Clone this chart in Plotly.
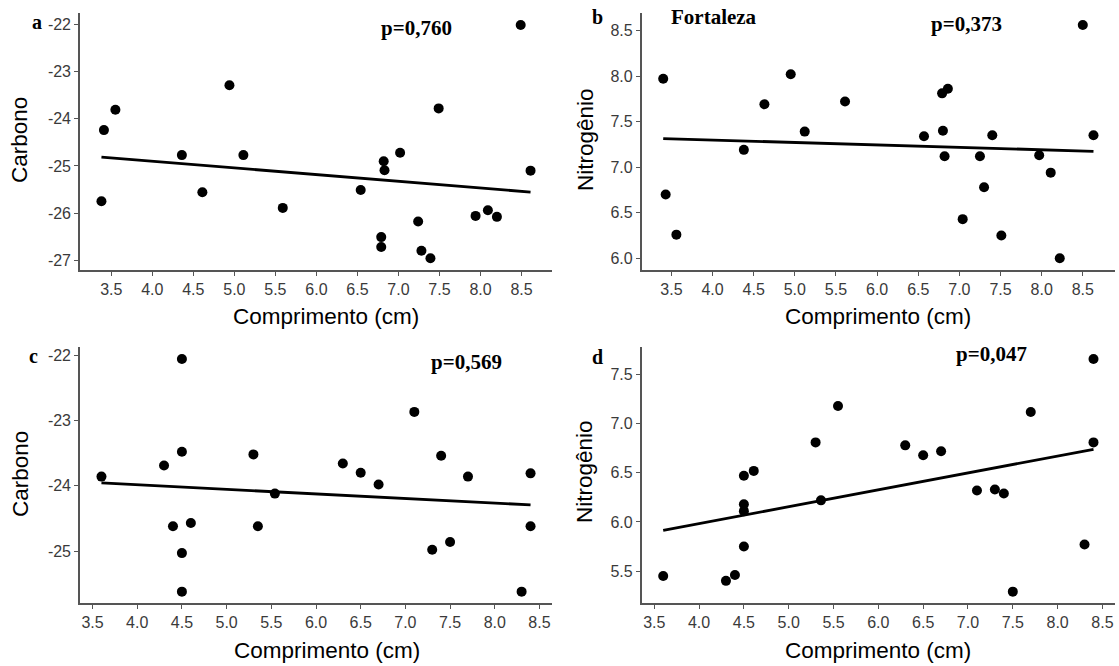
import numpy as np
import plotly.graph_objects as go

# ---------------- data ----------------
a_x = [3.38, 3.41, 3.55, 4.36, 4.61, 4.94, 5.11, 5.59, 6.54, 6.79, 6.79, 6.82,
       6.83, 7.02, 7.24, 7.28, 7.39, 7.49, 7.94, 8.09, 8.20, 8.49, 8.61]
a_y = [-25.75, -24.24, -23.81, -24.77, -25.56, -23.29, -24.77, -25.89, -25.51,
       -26.51, -26.72, -24.90, -25.09, -24.72, -26.18, -26.80, -26.96, -23.78,
       -26.06, -25.94, -26.08, -22.01, -25.10]

b_x = [3.40, 3.43, 3.56, 4.38, 4.63, 4.95, 5.12, 5.61, 6.57, 6.79, 6.86, 6.80,
       6.82, 7.04, 7.25, 7.30, 7.40, 7.51, 7.97, 8.11, 8.22, 8.50, 8.63]
b_y = [7.97, 6.70, 6.26, 7.19, 7.69, 8.02, 7.39, 7.72, 7.34, 7.81, 7.86, 7.40,
       7.12, 6.43, 7.12, 6.78, 7.35, 6.25, 7.13, 6.94, 6.00, 8.56, 7.35]

c_x = [3.60, 4.30, 4.40, 4.50, 4.50, 4.50, 4.50, 4.60, 5.30, 5.35, 5.54, 6.30,
       6.50, 6.70, 7.10, 7.30, 7.40, 7.50, 7.70, 8.30, 8.40, 8.40]
c_y = [-23.86, -23.69, -24.62, -22.06, -23.48, -25.03, -25.62, -24.57, -23.52,
       -24.62, -24.12, -23.66, -23.80, -23.98, -22.87, -24.98, -23.54, -24.86,
       -23.86, -25.62, -23.81, -24.62]

d_x = [3.60, 4.30, 4.40, 4.50, 4.50, 4.50, 4.50, 4.61, 5.30, 5.36, 5.55, 6.30,
       6.50, 6.70, 7.10, 7.30, 7.40, 7.50, 7.70, 8.30, 8.40, 8.40]
d_y = [5.45, 5.40, 5.46, 5.75, 6.11, 6.18, 6.47, 6.52, 6.81, 6.22, 7.18, 6.78,
       6.68, 6.72, 6.32, 6.33, 6.29, 5.29, 7.12, 5.77, 7.66, 6.81]

x_ticks = [3.5, 4.0, 4.5, 5.0, 5.5, 6.0, 6.5, 7.0, 7.5, 8.0, 8.5]
x_tick_labels = ["3.5", "4.0", "4.5", "5.0", "5.5", "6.0", "6.5", "7.0", "7.5", "8.0", "8.5"]
a_y_ticks = [-27, -26, -25, -24, -23, -22]
a_y_labels = ["-27", "-26", "-25", "-24", "-23", "-22"]
b_y_ticks = [6.0, 6.5, 7.0, 7.5, 8.0, 8.5]
b_y_labels = ["6.0", "6.5", "7.0", "7.5", "8.0", "8.5"]
c_y_ticks = [-25, -24, -23, -22]
c_y_labels = ["-25", "-24", "-23", "-22"]
d_y_ticks = [5.5, 6.0, 6.5, 7.0, 7.5]
d_y_labels = ["5.5", "6.0", "6.5", "7.0", "7.5"]

panel_letters = ["a", "b", "c", "d"]
p_values = ["p=0,760", "p=0,373", "p=0,569", "p=0,047"]
x_title = "Comprimento (cm)"
y_titles = ["Carbono", "Nitrogênio", "Carbono", "Nitrogênio"]
site_label = "Fortaleza"

# ---------------- figure ----------------
W, H = 1119, 666
fig = go.Figure()

panels = [
    (a_x, a_y, a_y_ticks, a_y_labels),
    (b_x, b_y, b_y_ticks, b_y_labels),
    (c_x, c_y, c_y_ticks, c_y_labels),
    (d_x, d_y, d_y_ticks, d_y_labels),
]

# pixel boxes of the panels (left, right, top, bottom)
boxes = [(80, 552, 13.3, 270), (641.7, 1115, 13.3, 270),
         (80, 552, 347.3, 603.3), (641.7, 1115, 347.3, 603.3)]

axis_col = "#555555"
tick_font = dict(family="Liberation Sans, Arial", size=16, color="#3a3a3a")

def expand(vals):
    lo, hi = min(vals), max(vals)
    pad = 0.05 * (hi - lo)
    return [lo - pad, hi + pad]

for i, (xs, ys, yt, yl) in enumerate(panels):
    n = "" if i == 0 else str(i + 1)
    xa, ya = "x" + n, "y" + n
    fig.add_trace(go.Scatter(x=xs, y=ys, mode="markers", xaxis=xa, yaxis=ya,
                             marker=dict(color="black", size=10), showlegend=False))
    slope, inter = np.polyfit(xs, ys, 1)
    lx = np.array([min(xs), max(xs)])
    fig.add_trace(go.Scatter(x=lx, y=slope * lx + inter, mode="lines", xaxis=xa, yaxis=ya,
                             line=dict(color="black", width=2.8), showlegend=False))
    l, r, t, b = boxes[i]
    common = dict(showline=True, linecolor=axis_col, linewidth=1.6, ticks="outside",
                  ticklen=4, tickcolor=axis_col, tickwidth=1.3, showgrid=False,
                  zeroline=False, tickfont=tick_font, mirror=False, fixedrange=True)
    fig.layout["xaxis" + n] = dict(domain=[l / W, r / W], anchor=ya, range=expand(xs),
                                   tickvals=x_ticks, ticktext=x_tick_labels, **common)
    fig.layout["yaxis" + n] = dict(domain=[1 - b / H, 1 - t / H], anchor=xa, range=expand(ys),
                                   tickvals=yt, ticktext=yl, **common)

serif_b = dict(family="Liberation Serif, Times New Roman", color="black")
ann = []
# panel letters
for txt, (x, y) in zip(panel_letters, [(37, 22), (598, 17), (33, 356), (598, 357)]):
    ann.append(dict(text="<b>%s</b>" % txt, x=x / W, y=1 - y / H, xref="paper", yref="paper",
                    showarrow=False, xanchor="center", yanchor="middle",
                    font=dict(size=20, **serif_b)))
# p values
for txt, (x, y) in zip(p_values, [(416, 28), (967, 24), (466, 362), (991, 354)]):
    ann.append(dict(text="<b>%s</b>" % txt, x=x / W, y=1 - y / H, xref="paper", yref="paper",
                    showarrow=False, xanchor="center", yanchor="middle",
                    font=dict(size=21, **serif_b)))
ann.append(dict(text="<b>%s</b>" % site_label, x=714 / W, y=1 - 17 / H, xref="paper",
                yref="paper", showarrow=False, xanchor="center", yanchor="middle",
                font=dict(size=21, **serif_b)))
# axis titles
title_font = dict(family="Liberation Sans, Arial", size=22.5, color="black")
for (x, y) in [(326, 316), (878, 316), (327, 650), (878, 650)]:
    ann.append(dict(text=x_title, x=x / W, y=1 - y / H, xref="paper", yref="paper",
                    showarrow=False, xanchor="center", yanchor="middle", font=title_font))
for txt, (x, y) in zip(y_titles, [(19, 140), (585, 140), (21, 474), (584, 472)]):
    ann.append(dict(text=txt, x=x / W, y=1 - y / H, xref="paper", yref="paper",
                    showarrow=False, xanchor="center", yanchor="middle", textangle=-90,
                    font=title_font))

fig.update_layout(width=W, height=H, margin=dict(l=0, r=0, t=0, b=0),
                  paper_bgcolor="white", plot_bgcolor="white", annotations=ann)

fig.write_html("out.html", config={"displayModeBar": False})
